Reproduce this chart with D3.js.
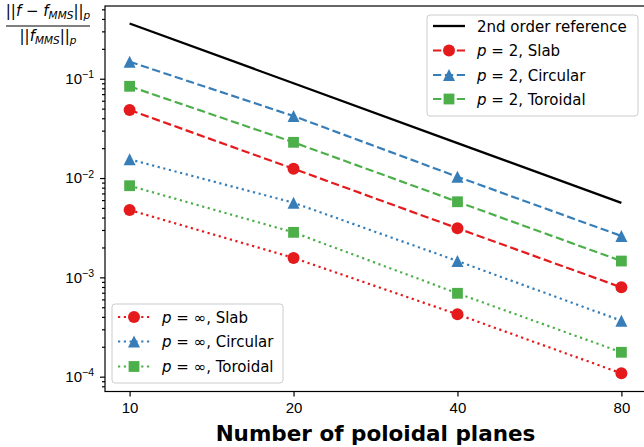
<!DOCTYPE html>
<html>
<head>
<meta charset="utf-8">
<script src="https://cdn.jsdelivr.net/npm/d3@7"></script>
<style>
  body { margin: 0; background: #fff; }
  svg { font-family: "DejaVu Sans", sans-serif; }
  .tick text { font-size: 15px; fill: #000; }
</style>
</head>
<body>
<div id="chart"></div>
<script>
// data
const planes = [10, 20, 40, 80]
const reference = [0.36, 0.09, 0.0225, 0.005625]
const l2Slab = [0.0484, 0.0124, 0.00312, 0.000793]
const l2Circular = [0.1484, 0.0421, 0.0103, 0.00261]
const l2Toroidal = [0.0839, 0.0229, 0.00577, 0.00146]
const linfSlab = [0.00477, 0.00157, 0.000424, 0.000108]
const linfCircular = [0.01543, 0.00564, 0.00146, 0.000366]
const linfToroidal = [0.00837, 0.00284, 0.000691, 0.000176]
const yMajorTicks = [1e-4, 1e-3, 1e-2, 1e-1]
const yTickExponents = ["−4", "−3", "−2", "−1"]

const red = "#e41a1c", blue = "#377eb8", green = "#4daf4a"

const series = [
  {values: l2Circular, color: blue, marker: "triangle", dash: "8.3,3.6", label: "2", name: "Circular"},
  {values: l2Toroidal, color: green, marker: "square", dash: "8.3,3.6", label: "2", name: "Toroidal"},
  {values: l2Slab, color: red, marker: "circle", dash: "8.3,3.6", label: "2", name: "Slab"},
  {values: linfCircular, color: blue, marker: "triangle", dash: "2.2,3.6", label: "∞", name: "Circular"},
  {values: linfToroidal, color: green, marker: "square", dash: "2.2,3.6", label: "∞", name: "Toroidal"},
  {values: linfSlab, color: red, marker: "circle", dash: "2.2,3.6", label: "∞", name: "Slab"},
]

const width = 644
const height = 447
const plot = {left: 105, right: 646, top: 6, bottom: 391.5}

const svg = d3.select("#chart").append("svg")
    .attr("width", width)
    .attr("height", height)

// scales
const xScale = d3.scaleLog()
  .domain([9.012, 88.77])
  .range([plot.left, plot.right])

const yScale = d3.scaleLog()
  .domain([7.09e-5, 0.54])
  .range([plot.bottom, plot.top])

function markerPath(type) {
  if (type === "circle") return "M6,0A6,6 0 1,1 -6,0A6,6 0 1,1 6,0Z"
  if (type === "square") return "M-5.4,-5.4H5.4V5.4H-5.4Z"
  return "M0,-6L6,6L-6,6Z"
}

const line = d3.line()
  .x((d, i) => xScale(planes[i]))
  .y(d => yScale(d))

// reference line
svg.append("path")
    .attr("d", line(reference))
    .attr("fill", "none")
    .attr("stroke", "#000")
    .attr("stroke-width", 2.3)

// series
series.forEach(s => {
  svg.append("path")
      .attr("d", line(s.values))
      .attr("fill", "none")
      .attr("stroke", s.color)
      .attr("stroke-width", 2.2)
      .attr("stroke-dasharray", s.dash)

  svg.selectAll(null)
    .data(s.values)
    .enter().append("path")
      .attr("d", markerPath(s.marker))
      .attr("transform", (d, i) => `translate(${xScale(planes[i])},${yScale(d)})`)
      .attr("fill", s.color)
})

// axes
const xAxis = svg.append("g")
    .attr("transform", `translate(0,${plot.bottom})`)
    .call(d3.axisBottom(xScale).tickValues(planes).tickFormat(d3.format("d")).tickSize(5).tickPadding(6))
xAxis.select(".domain").remove()

const yMinor = []
for (let e = -5; e <= -1; e++) {
  for (let m = 2; m <= 9; m++) {
    const v = m * Math.pow(10, e)
    if (v > 7.09e-5 && v < 0.54) yMinor.push(v)
  }
}

const yMinorAxis = svg.append("g")
    .attr("transform", `translate(${plot.left},0)`)
    .call(d3.axisLeft(yScale).tickValues(yMinor).tickFormat("").tickSize(3))
yMinorAxis.select(".domain").remove()

const yAxis = svg.append("g")
    .attr("transform", `translate(${plot.left},0)`)
    .call(d3.axisLeft(yScale).tickValues(yMajorTicks).tickSize(5).tickPadding(6))
yAxis.select(".domain").remove()

yAxis.selectAll(".tick text")
    .text(null)
    .attr("dy", "0.33em")
    .each(function(d, i) {
      const t = d3.select(this)
      t.append("tspan").text("10")
      t.append("tspan")
          .attr("font-size", "10.5px")
          .attr("dy", "-0.55em")
          .text(yTickExponents[i])
    })

svg.selectAll(".tick line").attr("stroke", "#000").attr("stroke-width", 1.2)

// spines
svg.append("rect")
    .attr("x", plot.left)
    .attr("y", plot.top)
    .attr("width", plot.right - plot.left)
    .attr("height", plot.bottom - plot.top)
    .attr("fill", "none")
    .attr("stroke", "#000")
    .attr("stroke-width", 1.2)

// axis titles
svg.append("text")
    .attr("x", (plot.left + plot.right) / 2)
    .attr("y", 441)
    .attr("text-anchor", "middle")
    .attr("font-weight", "bold")
    .attr("font-size", "21.5px")
    .text("Number of poloidal planes")

const num = svg.append("text")
    .attr("x", 48)
    .attr("y", 16)
    .attr("text-anchor", "middle")
    .attr("font-size", "15px")
num.append("tspan").text("||")
num.append("tspan").attr("font-style", "italic").text("f")
num.append("tspan").text(" − ")
num.append("tspan").attr("font-style", "italic").text("f")
num.append("tspan").attr("font-style", "italic").attr("font-size", "10.5px").attr("dy", 3).text("MMS")
num.append("tspan").attr("dy", -3).text("||")
num.append("tspan").attr("font-style", "italic").attr("font-size", "10.5px").attr("dy", 3).text("p")

svg.append("line")
    .attr("x1", 6).attr("x2", 90)
    .attr("y1", 26).attr("y2", 26)
    .attr("stroke", "#000")
    .attr("stroke-width", 1)

const den = svg.append("text")
    .attr("x", 48)
    .attr("y", 41)
    .attr("text-anchor", "middle")
    .attr("font-size", "15px")
den.append("tspan").text("||")
den.append("tspan").attr("font-style", "italic").text("f")
den.append("tspan").attr("font-style", "italic").attr("font-size", "10.5px").attr("dy", 3).text("MMS")
den.append("tspan").attr("dy", -3).text("||")
den.append("tspan").attr("font-style", "italic").attr("font-size", "10.5px").attr("dy", 3).text("p")

// legends
function drawLegend(x, y, w, h, rows) {
  const g = svg.append("g").attr("transform", `translate(${x},${y})`)
  g.append("rect")
      .attr("width", w)
      .attr("height", h)
      .attr("rx", 3)
      .attr("fill", "#fff")
      .attr("fill-opacity", 0.8)
      .attr("stroke", "#cccccc")
      .attr("stroke-width", 1)

  rows.forEach((r, i) => {
    const ry = r.y
    g.append("line")
        .attr("x1", 6).attr("x2", 38)
        .attr("y1", ry).attr("y2", ry)
        .attr("stroke", r.color)
        .attr("stroke-width", r.marker ? 2.2 : 2.3)
        .attr("stroke-dasharray", r.dash || null)
    if (r.marker) {
      g.append("path")
          .attr("d", markerPath(r.marker))
          .attr("transform", `translate(22,${ry})`)
          .attr("fill", r.color)
    }
    const t = g.append("text")
        .attr("x", 50)
        .attr("y", ry + 5.5)
        .attr("font-size", "15px")
    if (r.text) {
      t.text(r.text)
    } else {
      t.append("tspan").attr("font-style", "italic").text("p")
      t.append("tspan").text(` = ${r.label}, ${r.name}`)
    }
  })
}

drawLegend(427, 15, 211, 101, [
  {color: "#000", text: "2nd order reference", y: 11},
  {color: red, marker: "circle", dash: "8.3,3.6", label: "2", name: "Slab", y: 35.5},
  {color: blue, marker: "triangle", dash: "8.3,3.6", label: "2", name: "Circular", y: 60},
  {color: green, marker: "square", dash: "8.3,3.6", label: "2", name: "Toroidal", y: 84},
])

drawLegend(112, 304, 171, 79, [
  {color: red, marker: "circle", dash: "2.2,3.6", label: "∞", name: "Slab", y: 13},
  {color: blue, marker: "triangle", dash: "2.2,3.6", label: "∞", name: "Circular", y: 37.5},
  {color: green, marker: "square", dash: "2.2,3.6", label: "∞", name: "Toroidal", y: 62.5},
])
</script>
</body>
</html>
